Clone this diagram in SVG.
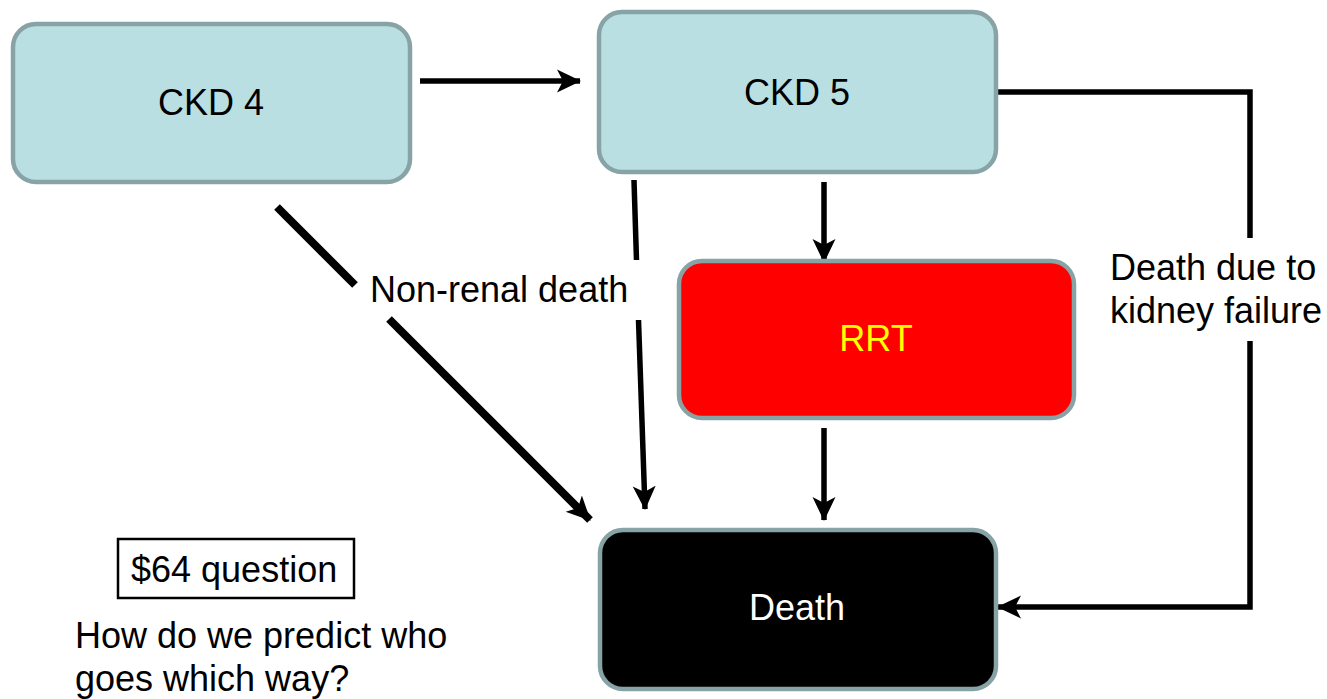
<svg xmlns="http://www.w3.org/2000/svg" width="1327" height="699" viewBox="0 0 1327 699">
<defs>
<style>
.t{font-family:"Liberation Sans",Arial,sans-serif;font-size:36px;}
.box{stroke:#87a3a6;stroke-width:4.5;}
.c{fill:none;stroke:#000;stroke-width:5.5;}
</style>
<marker id="ah" markerUnits="userSpaceOnUse" markerWidth="26" markerHeight="26" refX="23" refY="13" orient="auto" viewBox="0 0 26 26">
<path d="M0,1.5 L24,13 L0,24.5 L6,13 z" fill="#000"/>
</marker>
</defs>
<rect width="1327" height="699" fill="#fff"/>
<g id="connectors">
<line class="c" x1="420" y1="81" x2="580" y2="81" marker-end="url(#ah)"/>
<line class="c" x1="824" y1="182" x2="824" y2="262" marker-end="url(#ah)"/>
<line class="c" x1="824" y1="428" x2="824" y2="520" marker-end="url(#ah)"/>
<line class="c" x1="634" y1="180" x2="636.5" y2="260"/>
<line class="c" x1="638.5" y1="320" x2="645" y2="509" marker-end="url(#ah)"/>
<line class="c" style="stroke-width:8" x1="277" y1="207" x2="355" y2="285"/>
<line class="c" style="stroke-width:8" x1="389" y1="319" x2="590" y2="520" marker-end="url(#ah)"/>
<polyline class="c" points="997,92 1250,92 1250,238"/>
<polyline class="c" points="1250,341 1250,607 998,607" marker-end="url(#ah)"/>
</g>
<g id="ckd4">
<rect class="box" x="13" y="24" width="397" height="158" rx="23" fill="#b9dfe2"/>
<text class="t" x="211" y="115" text-anchor="middle" fill="#000">CKD 4</text>
</g>
<g id="ckd5">
<rect class="box" x="599" y="12" width="397" height="160" rx="23" fill="#b9dfe2"/>
<text class="t" x="797" y="105" text-anchor="middle" fill="#000">CKD 5</text>
</g>
<g id="rrt">
<rect class="box" x="679" y="261" width="395" height="157" rx="23" fill="#ff0000"/>
<text class="t" x="876" y="351" text-anchor="middle" fill="#ffff00">RRT</text>
</g>
<g id="death">
<rect class="box" x="600" y="530" width="396" height="159" rx="23" fill="#000"/>
<text class="t" x="797" y="620" text-anchor="middle" fill="#fff">Death</text>
</g>
<g id="labels">
<text class="t" x="370" y="302" fill="#000">Non-renal death</text>
<text class="t" x="1110" y="280" fill="#000">Death due to</text>
<text class="t" x="1110" y="323" fill="#000">kidney failure</text>
</g>
<g id="question">
<rect x="118" y="539" width="236" height="59" fill="#fff" stroke="#000" stroke-width="2.5"/>
<text class="t" x="131" y="582" fill="#000">$64 question</text>
<text class="t" x="75" y="648" fill="#000">How do we predict who</text>
<text class="t" x="75" y="691" fill="#000">goes which way?</text>
</g>
</svg>
